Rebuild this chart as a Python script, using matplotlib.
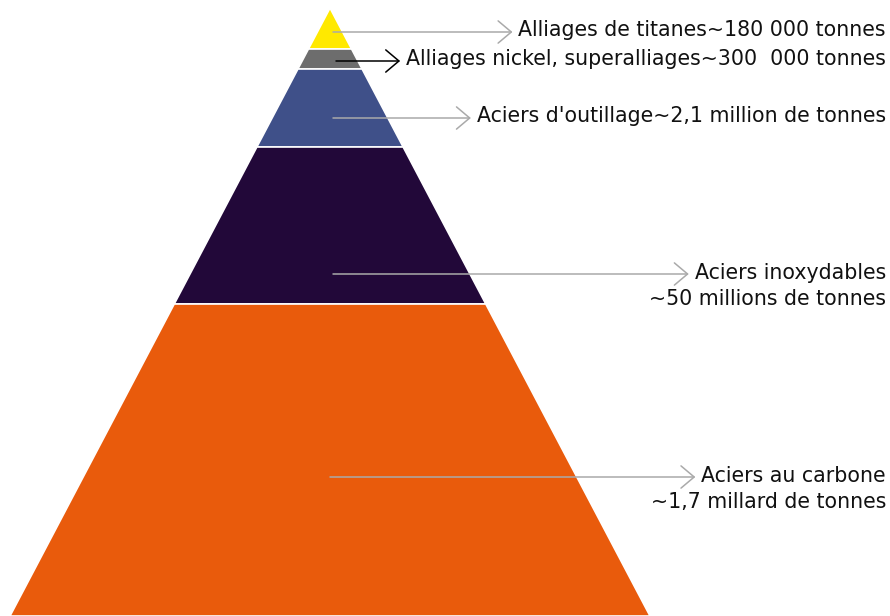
import matplotlib.pyplot as plt
from matplotlib.patches import Polygon

# layers from top to bottom
layer_names = ["Alliages de titanes", "Alliages nickel, superalliages", "Aciers d'outillage",
               "Aciers inoxydables", "Aciers au carbone"]
layer_amounts = ["~180 000 tonnes", "~300  000 tonnes", "~2,1 million de tonnes",
                 "~50 millions de tonnes", "~1,7 millard de tonnes"]
layer_heights = [41, 20, 78, 157, 312]   # relative heights of the slices (px)
layer_colors = ["#ffe900", "#6d6d6d", "#3f5089", "#220839", "#e95b0c"]
arrow_colors = ["#aaaaaa", "#000000", "#aaaaaa", "#aaaaaa", "#aaaaaa"]
two_lines = [False, False, False, True, True]

W, H = 890, 616
apex_x, apex_y = 330, 8
half_base = 320
total = sum(layer_heights)

fig = plt.figure(figsize=(W / 100, H / 100), dpi=100)
ax = fig.add_axes([0, 0, 1, 1])
ax.set_xlim(0, W)
ax.set_ylim(H, 0)
ax.axis("off")

plt.rcParams['font.family'] = ['DejaVu Sans']
fs = 14.8


def half_width(y):
    return (y - apex_y) / (H - apex_y) * half_base


top = apex_y
for h, c in zip(layer_heights, layer_colors):
    bot = top + h / total * (H - apex_y)
    pts = [(apex_x - half_width(top), top), (apex_x + half_width(top), top),
           (apex_x + half_width(bot), bot), (apex_x - half_width(bot), bot)]
    ax.add_patch(Polygon(pts, closed=True, facecolor=c, edgecolor="white", linewidth=1.2))
    top = bot

# arrow y positions inside each slice
arrow_y = [32, 61, 118, 274, 477]
arrow_x0 = [333, 336, 333, 333, 330]

fig.canvas.draw()
renderer = fig.canvas.get_renderer()
for i in range(len(layer_names)):
    y = arrow_y[i]
    if two_lines[i]:
        t = ax.text(886, y - 1, layer_names[i], ha="right", va="center", fontsize=fs, color="#111111")
        ax.text(886, y + 25, layer_amounts[i], ha="right", va="center", fontsize=fs, color="#111111")
    else:
        t = ax.text(886, y - 2, layer_names[i] + layer_amounts[i], ha="right", va="center",
                    fontsize=fs, color="#111111")
    bb = t.get_window_extent(renderer=renderer)
    x_end = bb.x0 - 6
    ax.annotate("", xy=(x_end, y), xytext=(arrow_x0[i], y),
                arrowprops=dict(arrowstyle="->,head_length=0.95,head_width=0.8",
                                color=arrow_colors[i], lw=1.1, shrinkA=0, shrinkB=0))

fig.savefig("out.png", dpi=100)
